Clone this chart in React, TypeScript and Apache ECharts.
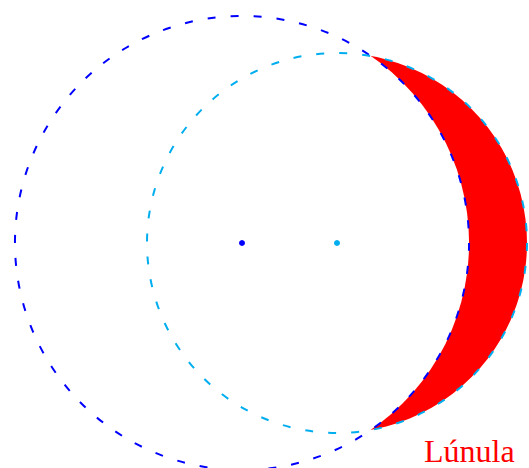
import React, { useEffect, useRef } from "react";
import * as echarts from "echarts";

// Circles (data units): outer = dashed blue, inner = dashed cyan
const circleNames = ["outer", "inner"];
const centersX = [0, 1];
const centersY = [0, 0];
const radii = [2.39, 2.0];
const strokeColors = ["#0000ff", "#00aeef"];
const lunulaLabel = "Lúnula";

export default function App() {
  const ref = useRef<HTMLDivElement>(null);
  useEffect(() => {
    if (!ref.current) return;
    const chart = echarts.init(ref.current, null, { renderer: "svg" });
    const unit = 95;
    const W = 529, H = 468;
    const cx0 = 242, cy0 = 243;
    const xMin = -cx0 / unit, xMax = (W - cx0) / unit;
    const yMax = cy0 / unit, yMin = -(H - cy0) / unit;
    const circleData = circleNames.map((n, i) => ({
      name: n,
      value: [centersX[i], centersY[i], radii[i], i],
    }));
    chart.setOption({
      animation: false,
      grid: { left: 0, right: 0, top: 0, bottom: 0 },
      xAxis: { type: "value", min: xMin, max: xMax, show: false },
      yAxis: { type: "value", min: yMin, max: yMax, show: false },
      series: [
        {
          type: "custom",
          z: 1,
          clip: false,
          data: [0],
          renderItem: (params: any, api: any) => {
            // red disk of inner circle minus white disk of outer circle
            const pIn = api.coord([centersX[1], centersY[1]]);
            const rIn = api.size([radii[1], 0])[0];
            const pOut = api.coord([centersX[0], centersY[0]]);
            const rOut = api.size([radii[0], 0])[0];
            return {
              type: "group",
              children: [
                { type: "circle", shape: { cx: pIn[0], cy: pIn[1], r: rIn }, style: { fill: "#ff0000" }, z2: 1 },
                { type: "circle", shape: { cx: pOut[0], cy: pOut[1], r: rOut }, style: { fill: "#ffffff" }, z2: 2 },
              ],
            };
          },
        },
        {
          type: "custom",
          z: 2,
          clip: false,
          data: circleData,
          renderItem: (params: any, api: any) => {
            const p = api.coord([api.value(0), api.value(1)]);
            const r = api.size([api.value(2), 0])[0];
            const i = api.value(3);
            return {
              type: "circle",
              shape: { cx: p[0], cy: p[1], r },
              style: {
                fill: "none",
                stroke: strokeColors[i],
                lineWidth: 2,
                lineDash: [8, 15],
              },
            };
          },
        },
        {
          type: "scatter",
          z: 3,
          symbolSize: 6,
          data: circleNames.map((n, i) => ({
            name: n,
            value: [centersX[i], centersY[i]],
            itemStyle: { color: strokeColors[i], opacity: 1 },
          })),
        },
      ],
      graphic: [
        {
          type: "text",
          left: 424,
          top: 435,
          style: {
            text: lunulaLabel,
            fill: "#ff0000",
            font: "32px 'Liberation Serif', serif",
          },
        },
      ],
    });
    return () => chart.dispose();
  }, []);
  return <div ref={ref} style={{ width: 529, height: 468, position: "absolute", left: 0, top: 0 }} />;
}
